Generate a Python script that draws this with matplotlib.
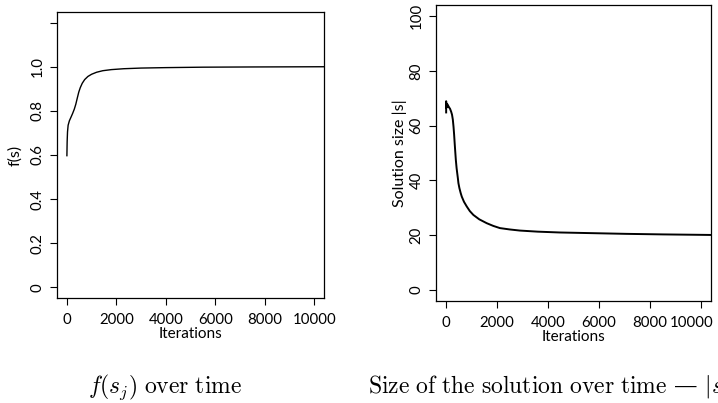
import numpy as np
import matplotlib
matplotlib.use("Agg")
import matplotlib.pyplot as plt
import matplotlib.transforms as mtransforms

# f(s) over iterations
fit_iter = [0, 10, 25, 50, 100, 160, 230, 300, 360, 420, 480, 540, 620, 720, 850, 1000,
            1200, 1450, 1800, 2300, 3000, 4000, 5500, 7500, 10400]
fit_val = [0.597, 0.660, 0.705, 0.735, 0.755, 0.770, 0.788, 0.808, 0.830, 0.858, 0.885, 0.905,
           0.925, 0.942, 0.956, 0.966, 0.975, 0.982, 0.987, 0.991, 0.994, 0.996, 0.998, 0.999, 1.0]

# solution size over iterations
size_iter = [0, 0, 10, 20, 35, 50, 70, 90, 117, 150, 195, 230, 262, 290, 313, 335, 352, 380,
             410, 430, 460, 482, 520, 570, 613, 700, 808, 930, 1069, 1300, 1591, 1850, 2112,
             2500, 2894, 3600, 4459, 5500, 7066, 8500, 10400]
size_val = [64.8, 68.9, 66.5, 68.0, 67.2, 67.8, 66.9, 67.1, 66.6, 66.2, 65.1, 64.0, 62.2, 59.5,
            56.7, 53.5, 51.2, 47.5, 44.5, 43.0, 40.8, 39.0, 37.2, 35.4, 34.1, 32.2, 30.5, 28.8,
            27.4, 25.8, 24.4, 23.4, 22.6, 22.1, 21.7, 21.3, 21.0, 20.8, 20.5, 20.3, 20.1]

x_ticks = [0, 2000, 4000, 6000, 8000, 10000]
fit_ticks = [0, 0.2, 0.4, 0.6, 0.8, 1.0, 1.2]
fit_labels = ["0", "0.2", "0.4", "0.6", "0.8", "1.0", ""]
size_ticks = [0, 20, 40, 60, 80, 100]

plt.rcParams['font.family'] = ['Lato', 'DejaVu Sans']
plt.rcParams['mathtext.fontset'] = 'cm'

fig = plt.figure(figsize=(7.18, 4.03), dpi=100)
ax1 = fig.add_axes([0.0794, 0.2605, 0.3719, 0.7097])
ax2 = fig.add_axes([0.6072, 0.2531, 0.3830, 0.7345])


def style(ax, yticks, ylabels, ylabel, ylabelpad):
    ax.set_xticks(x_ticks)
    ax.set_yticks(yticks)
    ax.set_yticklabels(ylabels, rotation=90, va='center')
    ax.tick_params(length=5, width=0.8, labelsize=10.8, pad=6)
    ax.tick_params(axis='y', pad=4)
    ax.set_xlabel("Iterations", fontsize=11, labelpad=0)
    ax.set_ylabel(ylabel, fontsize=11.5, labelpad=ylabelpad)
    for s in ax.spines.values():
        s.set_linewidth(0.9)


ax1.plot(fit_iter, fit_val, color='black', lw=1.0)
ax1.set_xlim(-400, 10400)
ax1.set_ylim(-0.048, 1.248)
style(ax1, fit_ticks, fit_labels, "f(s)", 6)

ax2.plot(size_iter, size_val, color='black', lw=1.4)
ax2.set_xlim(-400, 10400)
ax2.set_ylim(-4, 104)
style(ax2, size_ticks, [str(t) for t in size_ticks], "Solution size |s|", 2)

# last x label of the right panel is pulled inside the figure edge
last = ax2.get_xticklabels()[-1]
last.set_transform(last.get_transform() + mtransforms.ScaledTranslation(-0.09, 0, fig.dpi_scale_trans))

fig.text(0.23, 0.025, r'$f(s_j)\ \mathrm{over\ time}$', fontsize=17, ha='center', va='baseline')
fig.text(0.512, 0.025, r'$\mathrm{Size\ of\ the\ solution\ over\ time}$ ' + '\u2014' + r' $|s_j|$',
         fontsize=17, ha='left', va='baseline', family=['DejaVu Serif'])

fig.savefig("out.png", dpi=100)
